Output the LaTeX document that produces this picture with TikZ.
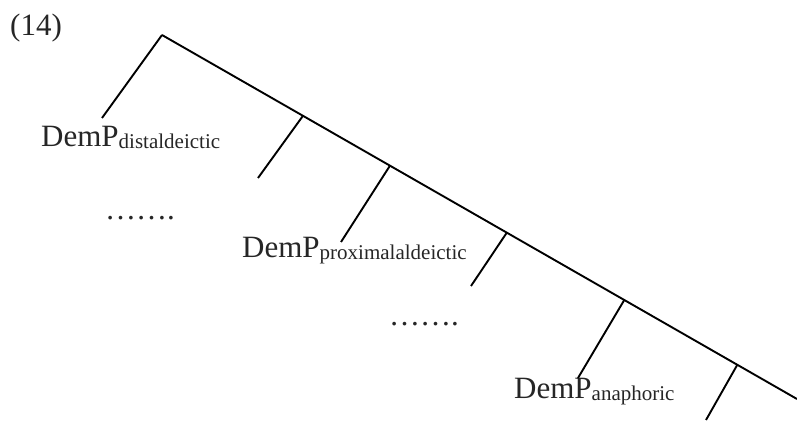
\documentclass[tikz,border=0pt]{standalone}
\usepackage{fontspec}
\setmainfont{Liberation Serif}
\usetikzlibrary{positioning}
\newcommand{\demsub}[1]{\raisebox{-2pt}{\fontsize{21}{24}\selectfont #1}}

\begin{document}
\begin{tikzpicture}[x=1pt, y=-1pt,
    every node/.style={font=\fontsize{31}{36}\selectfont, inner sep=0pt, anchor=base west, text=black!85},
    branch/.style={line width=1.9pt}]
  \useasboundingbox (0,0) rectangle (797,420);
  \node (num) at (10,36) {(14)};
  % spine of the tree
  \coordinate (top) at (162,35);
  \coordinate (end) at (797,399);
  \draw[branch] (top) -- (end)
    coordinate[pos=0.222] (b1) coordinate[pos=0.359] (b2) coordinate[pos=0.543] (b3)
    coordinate[pos=0.728] (b4) coordinate[pos=0.906] (b5);
  % labels
  \node (distal) at (41,146) {DemP\demsub{distaldeictic}};
  \node (dotsA) at (105,219) {…….};
  \node (proximal) at (242,257) {DemP\demsub{proximalaldeictic}};
  \node (dotsB) at (389,325) {…….};
  \node (anaphoric) at (514,398) {DemP\demsub{anaphoric}};
  % branches
  \coordinate (l0) at (102,118);
  \coordinate (l1) at (258,178);
  \coordinate (l2) at (341,242);
  \coordinate (l3) at (471,286);
  \coordinate (l4) at (578,378);
  \coordinate (l5) at (706,420);
  \draw[branch] (top) -- (l0);
  \draw[branch] (b1) -- (l1);
  \draw[branch] (b2) -- (l2);
  \draw[branch] (b3) -- (l3);
  \draw[branch] (b4) -- (l4);
  \draw[branch] (b5) -- (l5);
\end{tikzpicture}
\end{document}
